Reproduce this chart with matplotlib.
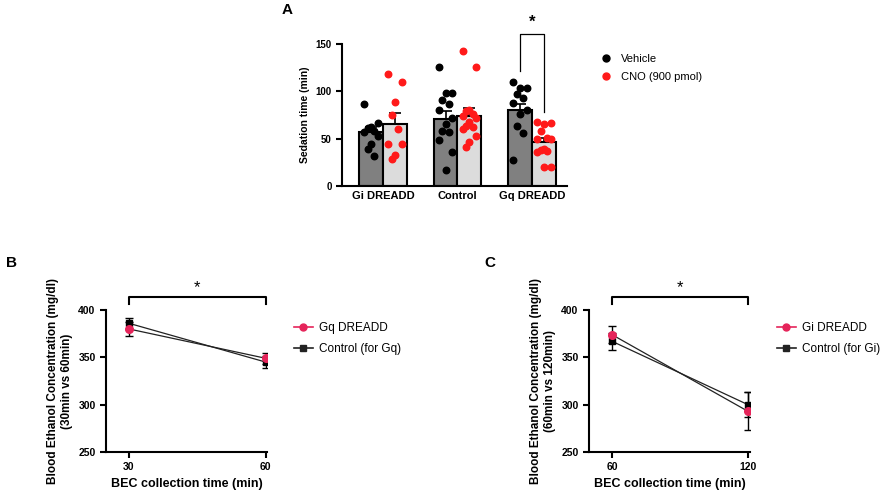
import numpy as np
import matplotlib
matplotlib.use('Agg')
import matplotlib.pyplot as plt
from matplotlib.lines import Line2D

plt.rcParams['font.family'] = ['Liberation Sans', 'DejaVu Sans']

# ---- panel A data (sedation time, min) ----
groups = ['Gi DREADD', 'Control', 'Gq DREADD']
veh_pts = [[87, 67, 62, 61, 58, 57, 53, 44, 39, 32],
           [126, 98, 98, 91, 87, 80, 72, 66, 58, 57, 49, 36, 17],
           [110, 104, 103, 97, 93, 88, 80, 76, 63, 56, 27]]
cno_pts = [[118, 110, 89, 75, 60, 44, 44, 33, 29],
           [143, 126, 80, 79, 76, 74, 72, 68, 63, 62, 60, 53, 47, 41],
           [68, 67, 65, 58, 51, 50, 50, 39, 38, 37, 36, 20, 20]]
veh_mean = [57, 71, 80]
veh_sem = [5, 8, 7]
cno_mean = [66, 74, 46]
cno_sem = [11, 8, 4.5]

# ---- panel B data (BEC, mg/dl) ----
b_time = [30, 60]
b_gq = [380, 349]
b_gq_err = [7, 6]
b_ctrl = [386, 345]
b_ctrl_err = [6, 6]

# ---- panel C data ----
c_time = [60, 120]
c_gi = [374, 293]
c_gi_err = [9, 20]
c_ctrl = [367, 300]
c_ctrl_err = [9, 13]

W, H = 885, 495
fig = plt.figure(figsize=(W / 100, H / 100), dpi=100)


def px_axes(x0, y0, x1, y1):
    return fig.add_axes([x0 / W, 1 - y1 / H, (x1 - x0) / W, (y1 - y0) / H])


def style(ax):
    for s in ['top', 'right']:
        ax.spines[s].set_visible(False)
    for s in ['left', 'bottom']:
        ax.spines[s].set_linewidth(1.5)
    ax.tick_params(width=1.5, length=4, direction='out')


def offsets(n, spread):
    # simple deterministic side-by-side layout for the dots
    pat = [-1, 1, 0, -0.5, 0.5]
    return np.array([pat[i % len(pat)] * spread for i in range(n)])


# ---------------- panel A ----------------
axA = px_axes(342, 44, 567, 186)
style(axA)
xc = np.arange(len(groups))
bw = 0.32
xv = xc - bw / 2
xn = xc + bw / 2
axA.bar(xv, veh_mean, width=bw, color='#808080', edgecolor='black', linewidth=1.5, zorder=2)
axA.bar(xn, cno_mean, width=bw, color='#dcdcdc', edgecolor='black', linewidth=1.5, zorder=2)
axA.errorbar(xv, veh_mean, yerr=[np.zeros(3), veh_sem], fmt='none', ecolor='black',
             elinewidth=1.2, capsize=4, capthick=1.2, zorder=3)
axA.errorbar(xn, cno_mean, yerr=[np.zeros(3), cno_sem], fmt='none', ecolor='black',
             elinewidth=1.2, capsize=4, capthick=1.2, zorder=3)
for i in range(len(groups)):
    axA.scatter(xv[i] + offsets(len(veh_pts[i]), 0.09), veh_pts[i], s=22, color='black', zorder=4)
    axA.scatter(xn[i] + offsets(len(cno_pts[i]), 0.09), cno_pts[i], s=22, color='#ff1a1a', zorder=4)
axA.set_xlim(-0.55, 2.47)
axA.set_ylim(0, 150)
axA.set_yticks([0, 50, 100, 150])
axA.set_xticks(xc)
axA.set_xticklabels(groups, fontweight='bold', fontsize=8)
axA.tick_params(axis='x', length=0)
for lab in axA.get_yticklabels():
    lab.set_fontweight('bold')
    lab.set_fontsize(7)
axA.set_ylabel('Sedation time (min)', fontweight='bold', fontsize=7.5)
# significance bracket
axA.plot([xv[2], xv[2], xn[2], xn[2]], [121, 161, 161, 78], color='black', lw=0.9, clip_on=False)
axA.text(xc[2], 165, '*', ha='center', va='bottom', fontsize=12, fontweight='bold')
legA = [Line2D([], [], marker='o', ls='none', color='black', markersize=5, label='Vehicle'),
        Line2D([], [], marker='o', ls='none', color='#ff1a1a', markersize=5, label='CNO (900 pmol)')]
axA.legend(handles=legA, loc='upper left', bbox_to_anchor=(1.08, 1.0), frameon=False,
           fontsize=8, handletextpad=0.3, labelspacing=0.7)
fig.text(282 / W, 1 - 10 / H, 'A', fontsize=11, fontweight='bold', ha='left', va='center')


# ---------------- panels B and C ----------------
def line_panel(ax, t, red, red_err, ctrl, ctrl_err, red_lab, ctrl_lab, ylab, xlim):
    style(ax)
    ax.errorbar(t, ctrl, yerr=ctrl_err, color='#222222', lw=0.9, marker='s', markersize=5,
                mfc='black', mec='black', ecolor='black', elinewidth=1, capsize=3, zorder=3)
    ax.errorbar(t, red, yerr=red_err, color='#222222', lw=0.9, marker='o', markersize=5.5,
                mfc='#e5245a', mec='#e5245a', ecolor='black', elinewidth=1, capsize=3, zorder=4)
    ax.set_xlim(*xlim)
    ax.set_ylim(250, 400)
    ax.set_yticks([250, 300, 350, 400])
    ax.set_xticks(t)
    for lab in ax.get_xticklabels() + ax.get_yticklabels():
        lab.set_fontweight('bold')
        lab.set_fontsize(7.5)
    ax.set_xlabel('BEC collection time (min)', fontweight='bold', fontsize=9)
    ax.set_ylabel(ylab, fontweight='bold', fontsize=8.5)
    ax.plot([t[0], t[0], t[1], t[1]], [406, 414, 414, 406], color='black', lw=1.5, clip_on=False)
    ax.text((t[0] + t[1]) / 2, 416, '*', ha='center', va='bottom', fontsize=12)
    hs = [Line2D([], [], color='#e5245a', marker='o', markersize=5, lw=1.2, label=red_lab),
          Line2D([], [], color='#222222', marker='s', markersize=5, lw=1.2, label=ctrl_lab)]
    ax.legend(handles=hs, loc='upper left', bbox_to_anchor=(1.1, 0.99), frameon=False,
              fontsize=8.5, handlelength=1.6, handletextpad=0.5, labelspacing=0.8)


axB = px_axes(106, 310, 267, 452)
line_panel(axB, b_time, b_gq, b_gq_err, b_ctrl, b_ctrl_err, 'Gq DREADD', 'Control (for Gq)',
           'Blood Ethanol Concentration (mg/dl)\n(30min vs 60min)', (25, 60.3))
fig.text(6 / W, 1 - 263 / H, 'B', fontsize=11, fontweight='bold', ha='left', va='center')

axC = px_axes(589, 310, 750, 452)
line_panel(axC, c_time, c_gi, c_gi_err, c_ctrl, c_ctrl_err, 'Gi DREADD', 'Control (for Gi)',
           'Blood Ethanol Concentration (mg/dl)\n(60min vs 120min)', (49.9, 120.9))
fig.text(484 / W, 1 - 263 / H, 'C', fontsize=11, fontweight='bold', ha='left', va='center')

fig.savefig('out.png', dpi=100)
